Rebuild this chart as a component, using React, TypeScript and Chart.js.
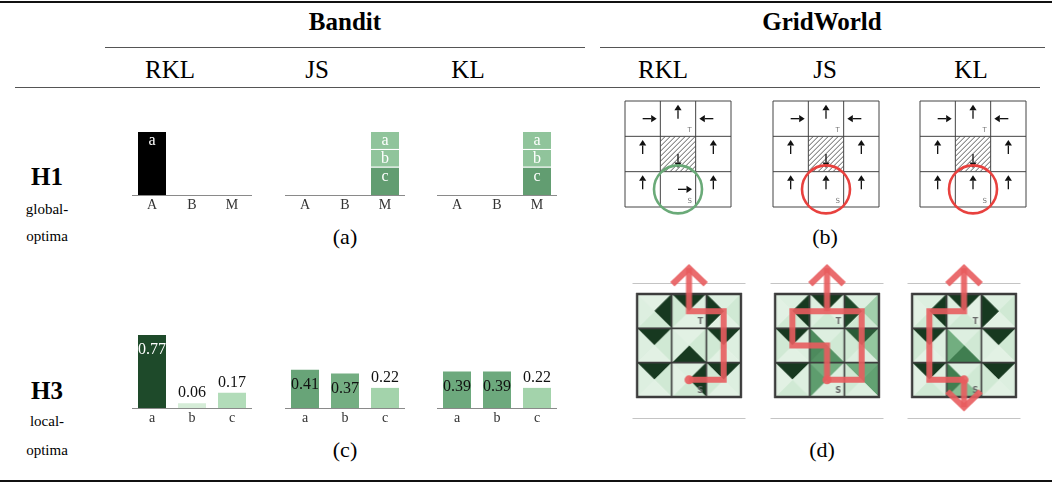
import React, { useEffect, useRef } from "react";
import { Chart, registerables } from "chart.js";

Chart.register(...registerables);

const SERIF = '"Liberation Serif", "Times New Roman", Times, serif';
const SANS = '"DejaVu Sans", "Liberation Sans", sans-serif';

// ---------------- text ----------------
const envNames = ["Bandit", "GridWorld"];
const methodNames = ["RKL", "JS", "KL"];
const panelTags = ["(a)", "(b)", "(c)", "(d)"];
const rowHeads = ["H1", "H3"];
const rowSubs = [["global-", "optima"], ["local-", "optima"]];

// ---------------- Bandit data ----------------
const banditArms = ["A", "B", "M"];
const banditOutcomes = ["a", "b", "c"];
const h1RklA = [1, 0, 0];
const h1JsC = [0, 0, 0.44];
const h1JsB = [0, 0, 0.28];
const h1JsA = [0, 0, 0.28];
const h1KlC = [0, 0, 0.44];
const h1KlB = [0, 0, 0.28];
const h1KlA = [0, 0, 0.28];
const h3RklProbs = [0.77, 0.06, 0.17];
const h3JsProbs = [0.41, 0.37, 0.22];
const h3KlProbs = [0.39, 0.39, 0.22];

// ---------------- GridWorld data ----------------
const gridN = 3;
const wallCell = 4;
const targetCell = 1;
const startCell = 7;
const h1RklActions = ["R", "U", "L", "U", "D", "U", "U", "R", "U"];
const h1JsActions = ["R", "U", "L", "U", "D", "U", "U", "U", "U"];
const h1KlActions = ["R", "U", "L", "U", "D", "U", "U", "U", "U"];

// policy per cell: [N, E, S, W]
const h3RklPolicy = [
  [0.03, 0.97, 0.1, 0.05], [0.97, 0.05, 0.03, 0.1], [0.05, 0.1, 0.03, 0.97],
  [0.97, 0.1, 0.03, 0.05], [0.03, 0.1, 0.97, 0.05], [0.97, 0.05, 0.03, 0.1],
  [0.97, 0.1, 0.03, 0.05], [0.05, 0.97, 0.1, 0.03], [0.97, 0.05, 0.03, 0.1],
];
const h3JsPolicy = [
  [0.05, 0.97, 0.1, 0.03], [0.97, 0.03, 0.1, 0.05], [0.05, 0.32, 0.1, 0.92],
  [0.97, 0.05, 0.03, 0.1], [0.05, 0.1, 0.62, 0.66], [0.85, 0.38, 0.05, 0.1],
  [0.97, 0.05, 0.1, 0.03], [0.5, 0.05, 0.05, 0.58], [0.52, 0.56, 0.05, 0.1],
];
const h3KlPolicy = [
  [0.05, 0.97, 0.1, 0.03], [0.97, 0.03, 0.1, 0.05], [0.05, 0.1, 0.03, 0.97],
  [0.97, 0.05, 0.03, 0.1], [0.05, 0.1, 0.72, 0.5], [0.97, 0.1, 0.03, 0.05],
  [0.97, 0.05, 0.1, 0.03], [0.05, 0.1, 0.42, 0.72], [0.97, 0.05, 0.03, 0.1],
];
// trajectories as cell sequences [col,row]; exit direction for arrow
const h3RklPaths = [{ cells: [[1, 2], [2, 2], [2, 0], [1, 0]], exit: "up" }];
const h3JsPaths = [
  { cells: [[1, 2], [2, 2], [2, 0], [0, 0], [0, 1], [1, 1], [1, 2]], exit: "" },
  { cells: [[1, 0]], exit: "up" },
];
const h3KlPaths = [
  { cells: [[1, 2], [0, 2], [0, 0], [1, 0]], exit: "up" },
  { cells: [[1, 2]], exit: "down" },
];

// ---------------- colour helpers ----------------
type Rgb = [number, number, number];
const barStops: [number, Rgb][] = [
  [0, [235, 247, 236]], [0.06, [213, 236, 215]], [0.17, [178, 220, 185]],
  [0.22, [163, 211, 171]], [0.4, [106, 167, 122]], [0.77, [30, 74, 42]], [1, [0, 0, 0]],
];
const gridStops: [number, Rgb][] = [
  [0, [234, 245, 235]], [0.1, [208, 233, 212]], [0.35, [155, 205, 165]],
  [0.55, [100, 163, 116]], [0.75, [58, 120, 74]], [1, [18, 48, 26]],
];
function ramp(stops: [number, Rgb][], v: number): string {
  if (v <= stops[0][0]) return `rgb(${stops[0][1].join(",")})`;
  for (let i = 1; i < stops.length; i++) {
    const [v1, c1] = stops[i];
    const [v0, c0] = stops[i - 1];
    if (v <= v1) {
      const t = (v - v0) / (v1 - v0);
      const c = c0.map((a, k) => Math.round(a + (c1[k] - a) * t));
      return `rgb(${c.join(",")})`;
    }
  }
  return `rgb(${stops[stops.length - 1][1].join(",")})`;
}
const PATH_RED = "rgba(232,92,94,0.9)";

// ---------------- Bar panel ----------------
type Series = { name: string; values: number[] };
function BarPanel(props: {
  left: number; axisY: number; width: number; unitPx: number; yMax: number;
  categories: string[]; series: Series[]; mode: "segment" | "value";
}) {
  const { left, axisY, width, unitPx, yMax, categories, series, mode } = props;
  const ref = useRef<HTMLCanvasElement>(null);
  const axisH = 24;
  const areaH = Math.round(unitPx * yMax);
  const h = areaH + axisH;
  useEffect(() => {
    const labelPlugin = {
      id: "barLabels",
      afterDatasetsDraw(chart: any) {
        const ctx = chart.ctx;
        ctx.save();
        ctx.textAlign = "center";
        ctx.textBaseline = "middle";
        ctx.font = `16px ${SERIF}`;
        chart.data.datasets.forEach((ds: any, i: number) => {
          const meta = chart.getDatasetMeta(i);
          meta.data.forEach((el: any, j: number) => {
            const v = ds.data[j];
            if (!v) return;
            if (mode === "segment") {
              ctx.fillStyle = "#fff";
              ctx.fillText(ds.label, el.x, el.y + 10);
            } else {
              const inside = v >= 0.3;
              ctx.fillStyle = inside && v > 0.6 ? "#fff" : "#111";
              ctx.fillText(v.toFixed(2), el.x, inside ? el.y + 16 : el.y - 9);
            }
          });
        });
        ctx.restore();
      },
    };
    const chart = new Chart(ref.current as HTMLCanvasElement, {
      type: "bar",
      data: {
        labels: categories,
        datasets: series.map((s) => ({
          label: s.name,
          data: s.values,
          backgroundColor: s.values.map((v) => ramp(barStops, v)),
          borderColor: "rgba(255,255,255,0.85)",
          borderWidth: 1,
          barPercentage: 0.75,
          categoryPercentage: 1,
        })),
      },
      options: {
        responsive: false,
        animation: false,
        events: [],
        layout: { padding: 0, autoPadding: false },
        plugins: { legend: { display: false }, tooltip: { enabled: false } },
        scales: {
          x: {
            stacked: true,
            grid: { display: false, drawTicks: false },
            border: { display: true, color: "#8a8a8a", width: 1 },
            ticks: { color: "#333", font: { family: SERIF, size: 14 }, padding: 2 },
            afterFit: (s: any) => { s.height = axisH; },
          },
          y: { stacked: true, display: false, min: 0, max: yMax },
        },
      } as any,
      plugins: [labelPlugin],
    });
    return () => chart.destroy();
  }, []);
  return (
    <canvas
      ref={ref}
      width={width}
      height={h}
      style={{ position: "absolute", left, top: axisY - areaH, width, height: h }}
    />
  );
}

// ---------------- helpers for grids ----------------
function cellRect(chart: any, idx: number) {
  const xs = chart.scales.x, ys = chart.scales.y;
  const c = idx % gridN, r = Math.floor(idx / gridN);
  const x0 = xs.getPixelForValue(c), x1 = xs.getPixelForValue(c + 1);
  const y0 = ys.getPixelForValue(r), y1 = ys.getPixelForValue(r + 1);
  return { x0, x1, y0, y1, cx: (x0 + x1) / 2, cy: (y0 + y1) / 2 };
}
function drawCornerLetters(chart: any, color: string, font: string) {
  const ctx = chart.ctx;
  ctx.save();
  ctx.fillStyle = color;
  ctx.font = font;
  ctx.textAlign = "center";
  ctx.textBaseline = "middle";
  const t = cellRect(chart, targetCell);
  ctx.fillText("T", t.x1 - 6, t.y1 - 6);
  const s = cellRect(chart, startCell);
  ctx.fillText("S", s.x1 - 6, s.y1 - 6);
  ctx.restore();
}

// ---------------- H1 policy grid ----------------
function PolicyGrid(props: { left: number; top: number; size: number; actions: string[]; circleColor: string }) {
  const { left, top, size, actions, circleColor } = props;
  const ref = useRef<HTMLCanvasElement>(null);
  const pad = 14;
  const W = size + 2 * pad;
  useEffect(() => {
    const gridPlugin = {
      id: "policyGrid",
      beforeDatasetsDraw(chart: any) {
        const ctx = chart.ctx;
        const a = chart.chartArea;
        ctx.save();
        // hatched wall
        const w = cellRect(chart, wallCell);
        ctx.save();
        ctx.beginPath();
        ctx.rect(w.x0, w.y0, w.x1 - w.x0, w.y1 - w.y0);
        ctx.clip();
        ctx.strokeStyle = "#333";
        ctx.lineWidth = 0.8;
        const span = w.x1 - w.x0;
        for (let k = -span; k < 2 * span; k += 5) {
          ctx.beginPath();
          ctx.moveTo(w.x0 + k, w.y1);
          ctx.lineTo(w.x0 + k + span, w.y0);
          ctx.stroke();
        }
        ctx.restore();
        // grid lines
        ctx.strokeStyle = "#444";
        ctx.lineWidth = 1;
        for (let i = 0; i <= gridN; i++) {
          const x = chart.scales.x.getPixelForValue(i);
          const y = chart.scales.y.getPixelForValue(i);
          ctx.beginPath(); ctx.moveTo(x, a.top); ctx.lineTo(x, a.bottom); ctx.stroke();
          ctx.beginPath(); ctx.moveTo(a.left, y); ctx.lineTo(a.right, y); ctx.stroke();
        }
        // arrows
        const dirs: Record<string, [number, number]> = { R: [1, 0], L: [-1, 0], U: [0, -1], D: [0, 1] };
        actions.forEach((act, idx) => {
          const c = cellRect(chart, idx);
          const [dx, dy] = dirs[act];
          const len = 14, head = 5.5, hw = 3.6;
          const tx = c.cx + dx * len, ty = c.cy + dy * len;
          ctx.strokeStyle = "#111";
          ctx.fillStyle = "#111";
          ctx.lineWidth = 1.3;
          ctx.beginPath();
          ctx.moveTo(c.cx, c.cy);
          ctx.lineTo(tx - dx * head, ty - dy * head);
          ctx.stroke();
          ctx.beginPath();
          ctx.moveTo(tx, ty);
          ctx.lineTo(tx - dx * head - dy * hw, ty - dy * head + dx * hw);
          ctx.lineTo(tx - dx * head + dy * hw, ty - dy * head - dx * hw);
          ctx.closePath();
          ctx.fill();
        });
        ctx.restore();
        drawCornerLetters(chart, "#777", `7px ${SANS}`);
      },
    };
    const chart = new Chart(ref.current as HTMLCanvasElement, {
      type: "scatter",
      data: {
        datasets: [
          {
            data: [{ x: (startCell % gridN) + 0.5, y: Math.floor(startCell / gridN) + 0.5 }],
            pointRadius: 24,
            pointBorderWidth: 2.6,
            pointBorderColor: circleColor,
            pointBackgroundColor: "rgba(0,0,0,0)",
            clip: false,
          } as any,
        ],
      },
      options: {
        responsive: false,
        animation: false,
        events: [],
        layout: { padding: pad, autoPadding: false },
        plugins: { legend: { display: false }, tooltip: { enabled: false } },
        scales: {
          x: { type: "linear", min: 0, max: gridN, display: false },
          y: { type: "linear", min: 0, max: gridN, reverse: true, display: false },
        },
      } as any,
      plugins: [gridPlugin],
    });
    return () => chart.destroy();
  }, []);
  return (
    <canvas ref={ref} width={W} height={W}
      style={{ position: "absolute", left: left - pad, top: top - pad, width: W, height: W }} />
  );
}

// ---------------- H3 value grid ----------------
function ValueGrid(props: { left: number; top: number; size: number; policy: number[][]; paths: { cells: number[][]; exit: string }[] }) {
  const { left, top, size, policy, paths } = props;
  const ref = useRef<HTMLCanvasElement>(null);
  const padX = 10, padTop = 32, padBottom = 34;
  const W = size + 2 * padX, H = size + padTop + padBottom;
  useEffect(() => {
    const gridPlugin = {
      id: "valueGrid",
      beforeDatasetsDraw(chart: any) {
        const ctx = chart.ctx;
        const a = chart.chartArea;
        ctx.save();
        // light rules above and below
        ctx.strokeStyle = "#c4c4c4";
        ctx.lineWidth = 1;
        [a.top - 10.5, a.bottom + 21.5].forEach((y) => {
          ctx.beginPath(); ctx.moveTo(a.left - 4.5, y); ctx.lineTo(a.right + 4.5, y); ctx.stroke();
        });
        // triangles
        policy.forEach((p, idx) => {
          const c = cellRect(chart, idx);
          const tris = [
            [[c.x0, c.y0], [c.x1, c.y0]],
            [[c.x1, c.y0], [c.x1, c.y1]],
            [[c.x1, c.y1], [c.x0, c.y1]],
            [[c.x0, c.y1], [c.x0, c.y0]],
          ];
          tris.forEach((t, k) => {
            const col = ramp(gridStops, p[k]);
            ctx.fillStyle = col;
            ctx.strokeStyle = col;
            ctx.lineWidth = 0.6;
            ctx.beginPath();
            ctx.moveTo(t[0][0], t[0][1]);
            ctx.lineTo(t[1][0], t[1][1]);
            ctx.lineTo(c.cx, c.cy);
            ctx.closePath();
            ctx.fill();
            ctx.stroke();
          });
        });
        // grid lines
        ctx.strokeStyle = "#3c3c3c";
        for (let i = 0; i <= gridN; i++) {
          ctx.lineWidth = i === 0 || i === gridN ? 2.4 : 1.6;
          const x = chart.scales.x.getPixelForValue(i);
          const y = chart.scales.y.getPixelForValue(i);
          ctx.beginPath(); ctx.moveTo(x, a.top - 1); ctx.lineTo(x, a.bottom + 1); ctx.stroke();
          ctx.beginPath(); ctx.moveTo(a.left - 1, y); ctx.lineTo(a.right + 1, y); ctx.stroke();
        }
        ctx.restore();
        drawCornerLetters(chart, "#6a6a6a", `bold 8px ${SANS}`);
      },
      afterDatasetsDraw(chart: any) {
        const ctx = chart.ctx;
        ctx.save();
        ctx.strokeStyle = PATH_RED;
        ctx.lineWidth = 6;
        ctx.lineJoin = "miter";
        ctx.lineCap = "butt";
        chart.data.datasets.forEach((ds: any, i: number) => {
          if (!ds.arrowHead) return;
          const pts = chart.getDatasetMeta(i).data;
          const p1 = pts[pts.length - 1], p0 = pts[pts.length - 2];
          const dx = p1.x - p0.x, dy = p1.y - p0.y;
          const L = Math.hypot(dx, dy) || 1;
          const ux = dx / L, uy = dy / L;
          const back = 16, wing = 16.5;
          ctx.beginPath();
          ctx.moveTo(p1.x - ux * back - uy * wing, p1.y - uy * back + ux * wing);
          ctx.lineTo(p1.x, p1.y);
          ctx.lineTo(p1.x - ux * back + uy * wing, p1.y - uy * back - ux * wing);
          ctx.stroke();
        });
        ctx.restore();
      },
    };
    const datasets: any[] = paths.map((p) => {
      const data = p.cells.map((c) => ({ x: c[0] + 0.5, y: c[1] + 0.5 }));
      const last = p.cells[p.cells.length - 1];
      if (p.exit === "up") data.push({ x: last[0] + 0.5, y: last[1] - 0.75 });
      if (p.exit === "down") data.push({ x: last[0] + 0.5, y: last[1] + 1.3 });
      return {
        data,
        showLine: true,
        borderColor: PATH_RED,
        borderWidth: 6,
        borderJoinStyle: "miter",
        borderCapStyle: "butt",
        pointRadius: 0,
        tension: 0,
        clip: false,
        arrowHead: p.exit !== "",
      };
    });
    const first = paths[0].cells[0];
    datasets.push({
      data: [{ x: first[0] + 0.5, y: first[1] + 0.5 }],
      pointRadius: 4.5,
      pointBorderWidth: 0,
      pointBackgroundColor: PATH_RED,
      clip: false,
    });
    const chart = new Chart(ref.current as HTMLCanvasElement, {
      type: "scatter",
      data: { datasets },
      options: {
        responsive: false,
        animation: false,
        events: [],
        layout: { padding: { left: padX, right: padX, top: padTop, bottom: padBottom }, autoPadding: false },
        plugins: { legend: { display: false }, tooltip: { enabled: false } },
        scales: {
          x: { type: "linear", min: 0, max: gridN, display: false },
          y: { type: "linear", min: 0, max: gridN, reverse: true, display: false },
        },
      } as any,
      plugins: [gridPlugin],
    });
    return () => chart.destroy();
  }, []);
  return (
    <canvas ref={ref} width={W} height={H}
      style={{ position: "absolute", left: left - padX, top: top - padTop, width: W, height: H }} />
  );
}

// ---------------- text & rules ----------------
function Txt(props: { x: number; y: number; size: number; bold?: boolean; children: any }) {
  const { x, y, size, bold, children } = props;
  return (
    <div style={{
      position: "absolute", left: x, top: y, transform: "translate(-50%,-50%)",
      fontSize: size, fontWeight: bold ? 700 : 400, lineHeight: 1, whiteSpace: "nowrap",
      fontFamily: SERIF, color: "#000",
    }}>{children}</div>
  );
}
function Rule(props: { x0: number; x1: number; y: number; h: number; color: string }) {
  const { x0, x1, y, h, color } = props;
  return <div style={{ position: "absolute", left: x0, top: y, width: x1 - x0, height: h, background: color }} />;
}

export default function App() {
  const banditHeaderX = [170, 317, 468];
  const gridHeaderX = [663, 825, 971];
  return (
    <div style={{ position: "fixed", left: 0, top: 0, width: 1052, height: 483, background: "#fff", overflow: "hidden" }}>
      <Rule x0={0} x1={1052} y={1} h={2} color="#111" />
      <Rule x0={105} x1={585} y={46.5} h={1.2} color="#555" />
      <Rule x0={600} x1={1045} y={46.5} h={1.2} color="#555" />
      <Rule x0={15} x1={1040} y={86.5} h={1.2} color="#555" />
      <Rule x0={0} x1={1052} y={479.5} h={2} color="#111" />

      <Txt x={345} y={21} size={25} bold>{envNames[0]}</Txt>
      <Txt x={822} y={21} size={25} bold>{envNames[1]}</Txt>
      {methodNames.map((m, i) => <Txt key={"b" + m} x={banditHeaderX[i]} y={69} size={25}>{m}</Txt>)}
      {methodNames.map((m, i) => <Txt key={"g" + m} x={gridHeaderX[i]} y={69} size={25}>{m}</Txt>)}

      <Txt x={47} y={176} size={25} bold>{rowHeads[0]}</Txt>
      <Txt x={47} y={209} size={15}>{rowSubs[0][0]}</Txt>
      <Txt x={47} y={236} size={15}>{rowSubs[0][1]}</Txt>
      <Txt x={47} y={390} size={25} bold>{rowHeads[1]}</Txt>
      <Txt x={47} y={421} size={15}>{rowSubs[1][0]}</Txt>
      <Txt x={47} y={450} size={15}>{rowSubs[1][1]}</Txt>

      <Txt x={345} y={237} size={22}>{panelTags[0]}</Txt>
      <Txt x={825} y={237} size={22}>{panelTags[1]}</Txt>
      <Txt x={345} y={450} size={22}>{panelTags[2]}</Txt>
      <Txt x={822} y={450} size={22}>{panelTags[3]}</Txt>

      <BarPanel left={132} axisY={195} width={120} unitPx={64} yMax={1.25} categories={banditArms}
        series={[{ name: banditOutcomes[0], values: h1RklA }]} mode="segment" />
      <BarPanel left={285} axisY={195} width={120} unitPx={64} yMax={1.25} categories={banditArms}
        series={[{ name: banditOutcomes[2], values: h1JsC }, { name: banditOutcomes[1], values: h1JsB }, { name: banditOutcomes[0], values: h1JsA }]} mode="segment" />
      <BarPanel left={437} axisY={195} width={120} unitPx={64} yMax={1.25} categories={banditArms}
        series={[{ name: banditOutcomes[2], values: h1KlC }, { name: banditOutcomes[1], values: h1KlB }, { name: banditOutcomes[0], values: h1KlA }]} mode="segment" />

      <BarPanel left={132} axisY={408} width={120} unitPx={96} yMax={1} categories={banditOutcomes}
        series={[{ name: "p", values: h3RklProbs }]} mode="value" />
      <BarPanel left={285} axisY={408} width={120} unitPx={96} yMax={1} categories={banditOutcomes}
        series={[{ name: "p", values: h3JsProbs }]} mode="value" />
      <BarPanel left={437} axisY={408} width={120} unitPx={96} yMax={1} categories={banditOutcomes}
        series={[{ name: "p", values: h3KlProbs }]} mode="value" />

      <PolicyGrid left={625} top={101} size={106} actions={h1RklActions} circleColor="#6aaa78" />
      <PolicyGrid left={773} top={101} size={106} actions={h1JsActions} circleColor="#e8413e" />
      <PolicyGrid left={920} top={101} size={106} actions={h1KlActions} circleColor="#e8413e" />

      <ValueGrid left={637} top={293.5} size={103.5} policy={h3RklPolicy} paths={h3RklPaths} />
      <ValueGrid left={775} top={293.5} size={103.5} policy={h3JsPolicy} paths={h3JsPaths} />
      <ValueGrid left={912} top={293.5} size={103.5} policy={h3KlPolicy} paths={h3KlPaths} />
    </div>
  );
}
